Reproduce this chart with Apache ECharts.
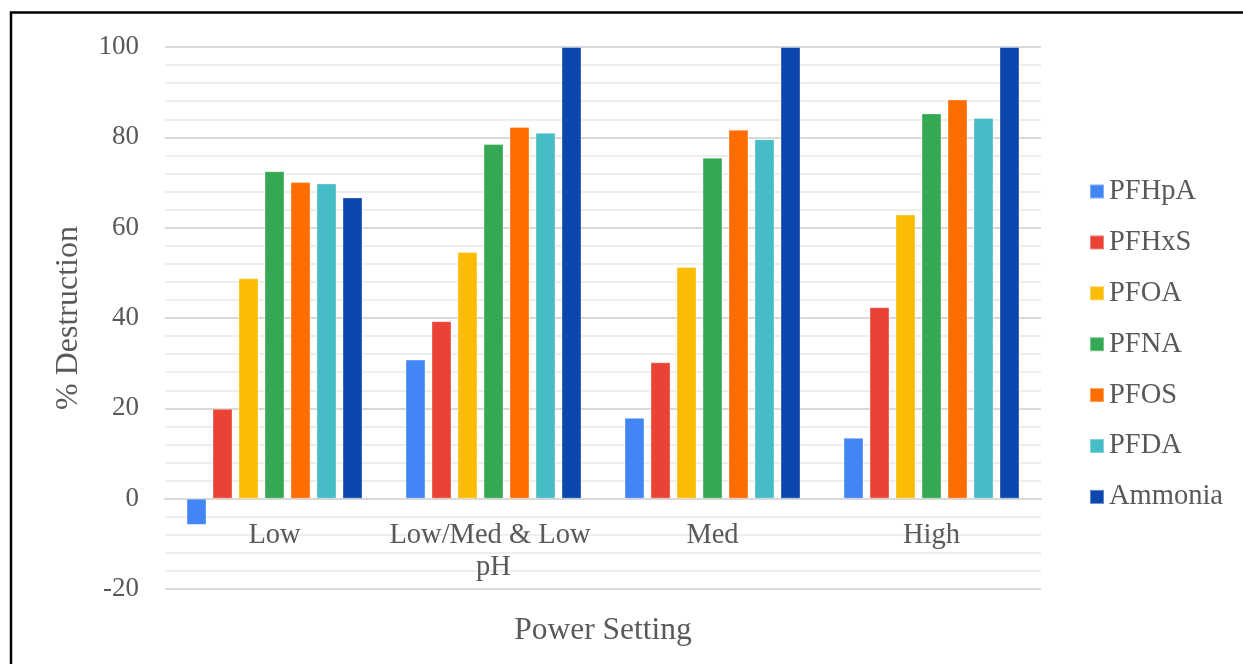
<!DOCTYPE html>
<html>
<head>
<meta charset="utf-8">
<script src="https://cdn.jsdelivr.net/npm/echarts@6/dist/echarts.min.js"></script>
<style>
  html, body { margin: 0; padding: 0; background: #fff; }
  #chart { width: 1243px; height: 664px; }
</style>
</head>
<body>
<div id="chart"></div>
<script>
// Power settings on the category axis
const categories = ['Low', 'Low/Med & Low pH', 'Med', 'High'];

// % destruction per compound, one value per power setting
const pfhpa   = [-5.8, 30.8, 17.9, 13.5];
const pfhxs   = [19.9, 39.3, 30.2, 42.4];
const pfoa    = [48.8, 54.6, 51.3, 62.9];
const pfna    = [72.5, 78.5, 75.5, 85.3];
const pfos    = [70.1, 82.3, 81.7, 88.4];
const pfda    = [69.8, 81.0, 79.6, 84.3];
const ammonia = [66.7, 100, 100, 100];

const seriesNames = ['PFHpA', 'PFHxS', 'PFOA', 'PFNA', 'PFOS', 'PFDA', 'Ammonia'];
const seriesData = [pfhpa, pfhxs, pfoa, pfna, pfos, pfda, ammonia];
const colors = ['#4285F4', '#EA4335', '#FBBC04', '#34A853', '#FF6D01', '#46BDC6', '#0B47AD'];

// y-axis range and tick step
const yMin = -20, yMax = 100, yStep = 20;

const textColor = '#595959';
const serif = '"Liberation Serif", "Times New Roman", serif';

// plot box
const gridTop = 47, gridBottom = 75, chartHeight = 664;
const plotHeight = chartHeight - gridTop - gridBottom;
// the category axis sits on the zero line, lifted from the bottom of the plot
const zeroLift = plotHeight * (0 - yMin) / (yMax - yMin);

const chart = echarts.init(document.getElementById('chart'), null, { renderer: 'canvas' });

chart.setOption({
  backgroundColor: '#fff',
  animation: false,
  color: colors,
  graphic: [{
    type: 'rect',
    shape: { x: 11, y: 12.5, width: 1400, height: 800 },
    style: { fill: 'none', stroke: '#000', lineWidth: 2.5 },
    silent: true,
    z: 100
  }],
  grid: { left: 165, right: 202, top: gridTop, bottom: gridBottom, containLabel: false, outerBoundsMode: 'none' },
  legend: {
    orient: 'vertical',
    left: 1089,
    top: 177,
    padding: 0,
    itemWidth: 14,
    itemHeight: 14,
    itemGap: 21.9,
    icon: 'rect',
    textStyle: { fontFamily: serif, fontSize: 28.5, color: textColor, lineHeight: 28 },
    data: seriesNames
  },
  xAxis: {
    type: 'category',
    data: categories,
    name: 'Power Setting',
    nameLocation: 'middle',
    nameGap: 116,
    nameTextStyle: { fontFamily: serif, fontSize: 31.5, color: textColor },
    offset: -zeroLift,
    axisLine: { onZero: false, lineStyle: { color: '#d9d9d9', width: 2 } },
    axisTick: { show: false },
    axisLabel: {
      interval: 0,
      fontFamily: serif, fontSize: 28.5, color: textColor,
      margin: 21, lineHeight: 32,
      width: 215, overflow: 'break'
    }
  },
  yAxis: {
    type: 'value',
    min: yMin,
    max: yMax,
    interval: yStep,
    name: '% Destruction',
    nameLocation: 'middle',
    nameGap: 80,
    nameTextStyle: { fontFamily: serif, fontSize: 32, color: textColor },
    axisLine: { show: false },
    axisTick: { show: false },
    axisLabel: { fontFamily: serif, fontSize: 27, color: textColor, margin: 26 },
    splitLine: { show: true, lineStyle: { color: '#d9d9d9', width: 2 } },
    minorTick: { show: false, splitNumber: 5 },
    minorSplitLine: { show: true, lineStyle: { color: '#eeeeee', width: 2 } }
  },
  series: seriesNames.map((name, i) => ({
    name: name,
    type: 'bar',
    data: seriesData[i],
    barWidth: 20,
    barGap: '30%',
    itemStyle: { borderColor: 'rgba(255,255,255,0.35)', borderWidth: 1 }
  }))
});
</script>
</body>
</html>
